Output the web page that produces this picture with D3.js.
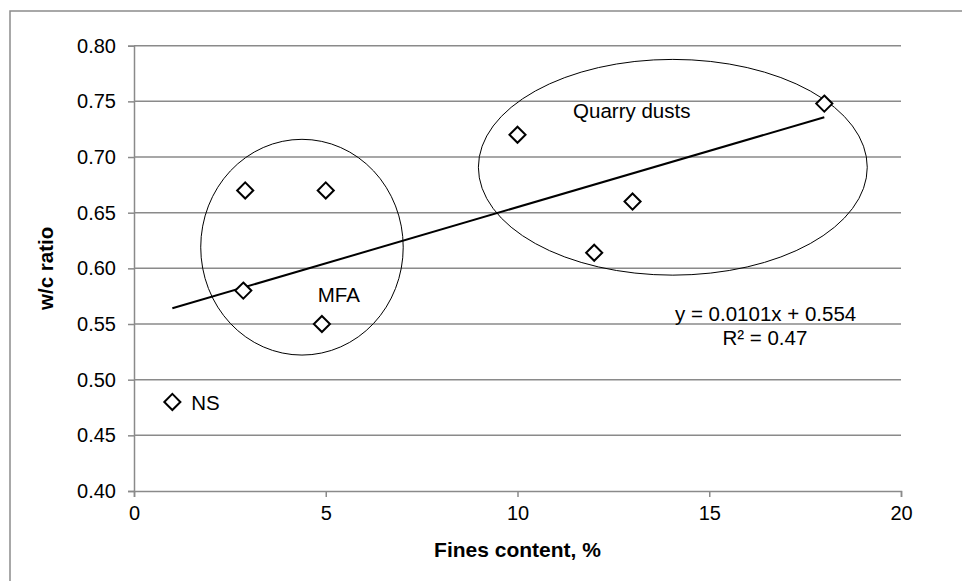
<!DOCTYPE html>
<html>
<head>
<meta charset="utf-8">
<script src="https://cdn.jsdelivr.net/npm/d3@7"></script>
<style>
  html, body { margin: 0; padding: 0; background: #fff; }
  svg { display: block; font-family: "Liberation Sans", Arial, sans-serif; }
</style>
</head>
<body>
<svg id="chart" width="962" height="581"></svg>
<script>
// ---- data ----
const finesContent = [1, 2.9, 5, 2.85, 4.9, 10, 12, 13, 18];
const wcRatio      = [0.48, 0.67, 0.67, 0.58, 0.55, 0.72, 0.614, 0.66, 0.748];
const xTicks = [0, 5, 10, 15, 20];
const yTicks = [0.40, 0.45, 0.50, 0.55, 0.60, 0.65, 0.70, 0.75, 0.80];
const trendSlope = 0.0101, trendIntercept = 0.554;
const trendRange = [1, 18];
const groupEllipses = [
  { name: "MFA", cx: 4.38, cy: 0.619, rx: 2.64, ry: 0.0969 },
  { name: "Quarry dusts", cx: 14.05, cy: 0.6908, rx: 5.07, ry: 0.0969 }
];
const labels = [
  { text: "Quarry dusts", x: 11.45, y: 0.735, anchor: "start" },
  { text: "MFA", x: 4.79, y: 0.570, anchor: "start" },
  { text: "NS", x: 1.49, y: 0.4727, anchor: "start" },
  { text: "y = 0.0101x + 0.554", x: 16.47, y: 0.553, anchor: "middle" },
  { text: "R² = 0.47", x: 16.45, y: 0.531, anchor: "middle" }
];
const xTitle = "Fines content, %";
const yTitle = "w/c ratio";

// ---- layout ----
const W = 962, H = 581;
const m = { left: 134, right: 61, top: 45.7, bottom: 90 };
const svg = d3.select("#chart");

// outer border
svg.append("rect").attr("x", 10).attr("y", 11).attr("width", W + 20).attr("height", H + 20)
  .attr("fill", "none").attr("stroke", "#8c8c8c").attr("stroke-width", 1.5);

const x = d3.scaleLinear().domain([0, 20]).range([m.left, W - m.right]);
const y = d3.scaleLinear().domain([0.40, 0.80]).range([H - m.bottom, m.top]);

const grey = "#8a8a8a";

// gridlines
svg.append("g").selectAll("line").data(yTicks.filter(t => t > 0.40)).join("line")
  .attr("x1", x(0)).attr("x2", x(20))
  .attr("y1", d => y(d)).attr("y2", d => y(d))
  .attr("stroke", grey).attr("stroke-width", 1.5);

// axes
const xAxis = d3.axisBottom(x).tickValues(xTicks).tickSize(6).tickPadding(9).tickFormat(d3.format("d"));
const yAxis = d3.axisLeft(y).tickValues(yTicks).tickSize(6).tickPadding(12).tickFormat(d3.format(".2f"));

const gx = svg.append("g").attr("transform", `translate(0,${y(0.40)})`).call(xAxis);
const gy = svg.append("g").attr("transform", `translate(${x(0)},0)`).call(yAxis);
[gx, gy].forEach(g => {
  g.select(".domain").attr("stroke", grey).attr("stroke-width", 1.5);
  g.selectAll(".tick line").attr("stroke", grey).attr("stroke-width", 1.5);
  g.selectAll(".tick text").attr("fill", "#000").attr("font-size", 20)
    .attr("font-family", "Liberation Sans, Arial, sans-serif");
});
gx.selectAll(".tick text").attr("dy", "0.71em");

// axis titles
svg.append("text").attr("x", (x(0) + x(20)) / 2).attr("y", 556.5)
  .attr("text-anchor", "middle").attr("font-size", 21).attr("font-weight", "bold").text(xTitle);
svg.append("text").attr("transform", `translate(53,${(y(0.40) + y(0.80)) / 2}) rotate(-90)`)
  .attr("text-anchor", "middle").attr("font-size", 20.5).attr("font-weight", "bold").text(yTitle);

// ellipses
svg.append("g").selectAll("ellipse").data(groupEllipses).join("ellipse")
  .attr("cx", d => x(d.cx)).attr("cy", d => y(d.cy))
  .attr("rx", d => x(d.rx) - x(0)).attr("ry", d => y(0.40) - y(0.40 + d.ry))
  .attr("fill", "none").attr("stroke", "#000").attr("stroke-width", 1);

// trendline
svg.append("line")
  .attr("x1", x(trendRange[0])).attr("y1", y(trendSlope * trendRange[0] + trendIntercept))
  .attr("x2", x(trendRange[1])).attr("y2", y(trendSlope * trendRange[1] + trendIntercept))
  .attr("stroke", "#000").attr("stroke-width", 2);

// markers
const pts = finesContent.map((v, i) => ({ x: v, y: wcRatio[i] }));
const diamond = d3.symbol().type(d3.symbolDiamond2).size(165);
svg.append("g").selectAll("path").data(pts).join("path")
  .attr("d", diamond)
  .attr("transform", d => `translate(${x(d.x)},${y(d.y)})`)
  .attr("fill", "#fff").attr("stroke", "#000").attr("stroke-width", 2);

// annotations
svg.append("g").selectAll("text").data(labels).join("text")
  .attr("x", d => x(d.x)).attr("y", d => y(d.y))
  .attr("text-anchor", d => d.anchor).attr("font-size", 20.5).attr("fill", "#000")
  .text(d => d.text);
</script>
</body>
</html>
